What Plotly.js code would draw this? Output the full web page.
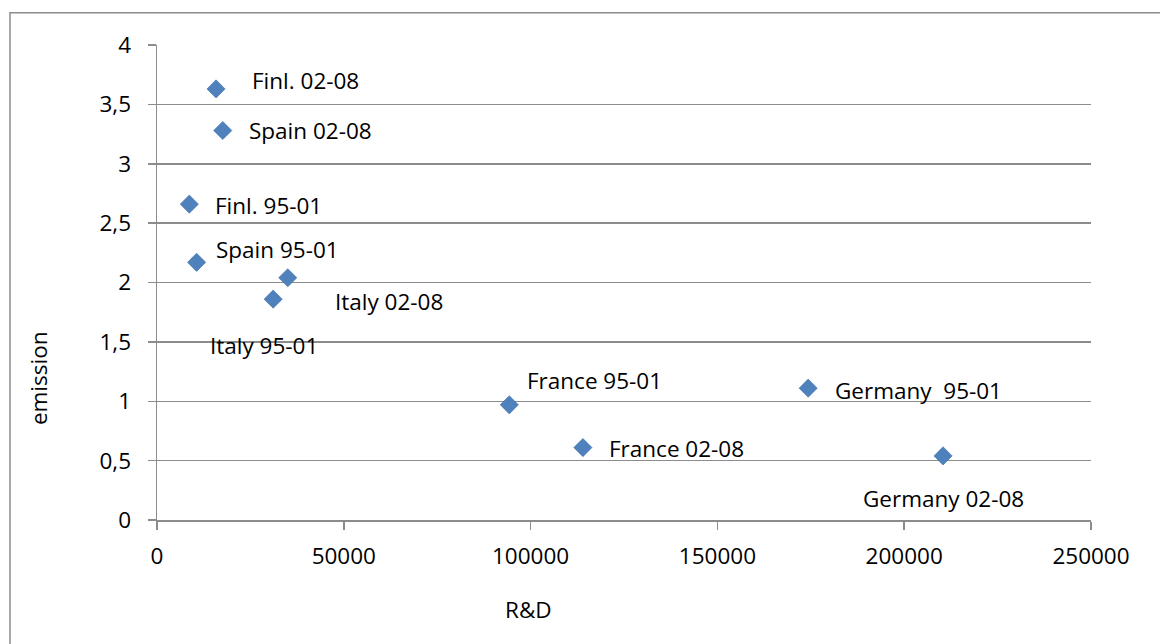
<!DOCTYPE html>
<html>
<head>
<meta charset="utf-8">
<script src="https://cdn.plot.ly/plotly-3.0.1.min.js"></script>
<style>
html, body { margin: 0; padding: 0; background: #ffffff; }
#chart { width: 1160px; height: 644px; }
</style>
</head>
<body>
<div id="chart"></div>
<script>
// ---- data ----
const labels = ["Finl. 02-08", "Spain 02-08", "Finl. 95-01", "Spain 95-01", "Italy 02-08",
                "Italy 95-01", "France 95-01", "France 02-08", "Germany  95-01", "Germany 02-08"];
const rdValues = [15800, 17600, 8650, 10600, 35000, 31100, 94300, 114000, 174300, 210400];
const emissionValues = [3.63, 3.28, 2.66, 2.17, 2.04, 1.86, 0.97, 0.61, 1.11, 0.54];

const xTickVals = [0, 50000, 100000, 150000, 200000, 250000];
const xTickText = ["0", "50000", "100000", "150000", "200000", "250000"];
const yTickVals = [0, 0.5, 1, 1.5, 2, 2.5, 3, 3.5, 4];
const yTickText = ["0", "0,5", "1", "1,5", "2", "2,5", "3", "3,5", "4"];

const xTitle = "R&D";
const yTitle = "emission";

// ---- label placement (pixel offsets from each marker, styling only) ----
const labelDx = [34, 24, 24, 17, 45, -65, 16, 24, 25, -82];
const labelDy = [8, 0, -1, 13, -24, -46, 24, -1, -2, -43];

const FONT = "Open Sans, Lato, sans-serif";
const FS = 22.5;
const GRID = "#8c8c8c";

const trace = {
  type: "scatter",
  mode: "markers",
  x: rdValues,
  y: emissionValues,
  marker: { symbol: "diamond", size: 14, color: "#4f81bd", line: { color: "#3d6ea8", width: 0.6 } },
  hoverinfo: "skip",
  showlegend: false
};

const annotations = labels.map((t, i) => ({
  x: rdValues[i], y: emissionValues[i], xref: "x", yref: "y",
  text: t, showarrow: false, xanchor: "left", yanchor: "middle",
  xshift: labelDx[i], yshift: labelDy[i],
  font: { family: FONT, size: FS, color: "#000000" }
}));

annotations.push({
  xref: "paper", yref: "paper", x: (38 - 157) / 934, y: (519.7 - 378) / 474.4,
  text: yTitle, textangle: -90, showarrow: false, xanchor: "center", yanchor: "middle",
  font: { family: FONT, size: FS, color: "#000000" }
});
annotations.push({
  xref: "paper", yref: "paper", x: (528 - 157) / 934, y: (519.7 - 609) / 474.4,
  text: xTitle, showarrow: false, xanchor: "center", yanchor: "middle",
  font: { family: FONT, size: FS, color: "#000000" }
});

const layout = {
  width: 1160, height: 644,
  margin: { l: 157, r: 69, t: 45, b: 124, pad: 0 },
  paper_bgcolor: "#ffffff", plot_bgcolor: "#ffffff",
  font: { family: FONT, size: FS, color: "#000000" },
  xaxis: {
    range: [0, 250000], tickvals: xTickVals, ticktext: xTickText,
    showgrid: false, zeroline: false, showline: true, linecolor: GRID, linewidth: 1.5,
    ticks: "outside", ticklen: 8, tickcolor: GRID, tickwidth: 1.5,
    ticklabelstandoff: 7,
    tickfont: { family: FONT, size: FS, color: "#000000" }
  },
  yaxis: {
    range: [0, 4], tickvals: yTickVals, ticktext: yTickText,
    showgrid: true, gridcolor: GRID, gridwidth: 1.5,
    zeroline: false, showline: true, linecolor: GRID, linewidth: 1.5,
    ticks: "outside", ticklen: 8, tickcolor: GRID, tickwidth: 1.5,
    ticklabelstandoff: 12,
    tickfont: { family: FONT, size: FS, color: "#000000" }
  },
  shapes: [{
    type: "rect", xref: "paper", yref: "paper",
    x0: (10 - 157) / 934, x1: (1175 - 157) / 934,
    y0: (519.7 - 660) / 474.4, y1: (519.7 - 13) / 474.4,
    line: { color: "#8c8c8c", width: 1.5 }, fillcolor: "rgba(0,0,0,0)", layer: "below"
  }],
  annotations: annotations
};

Plotly.newPlot("chart", [trace], layout, { displayModeBar: false, staticPlot: true });
</script>
</body>
</html>
